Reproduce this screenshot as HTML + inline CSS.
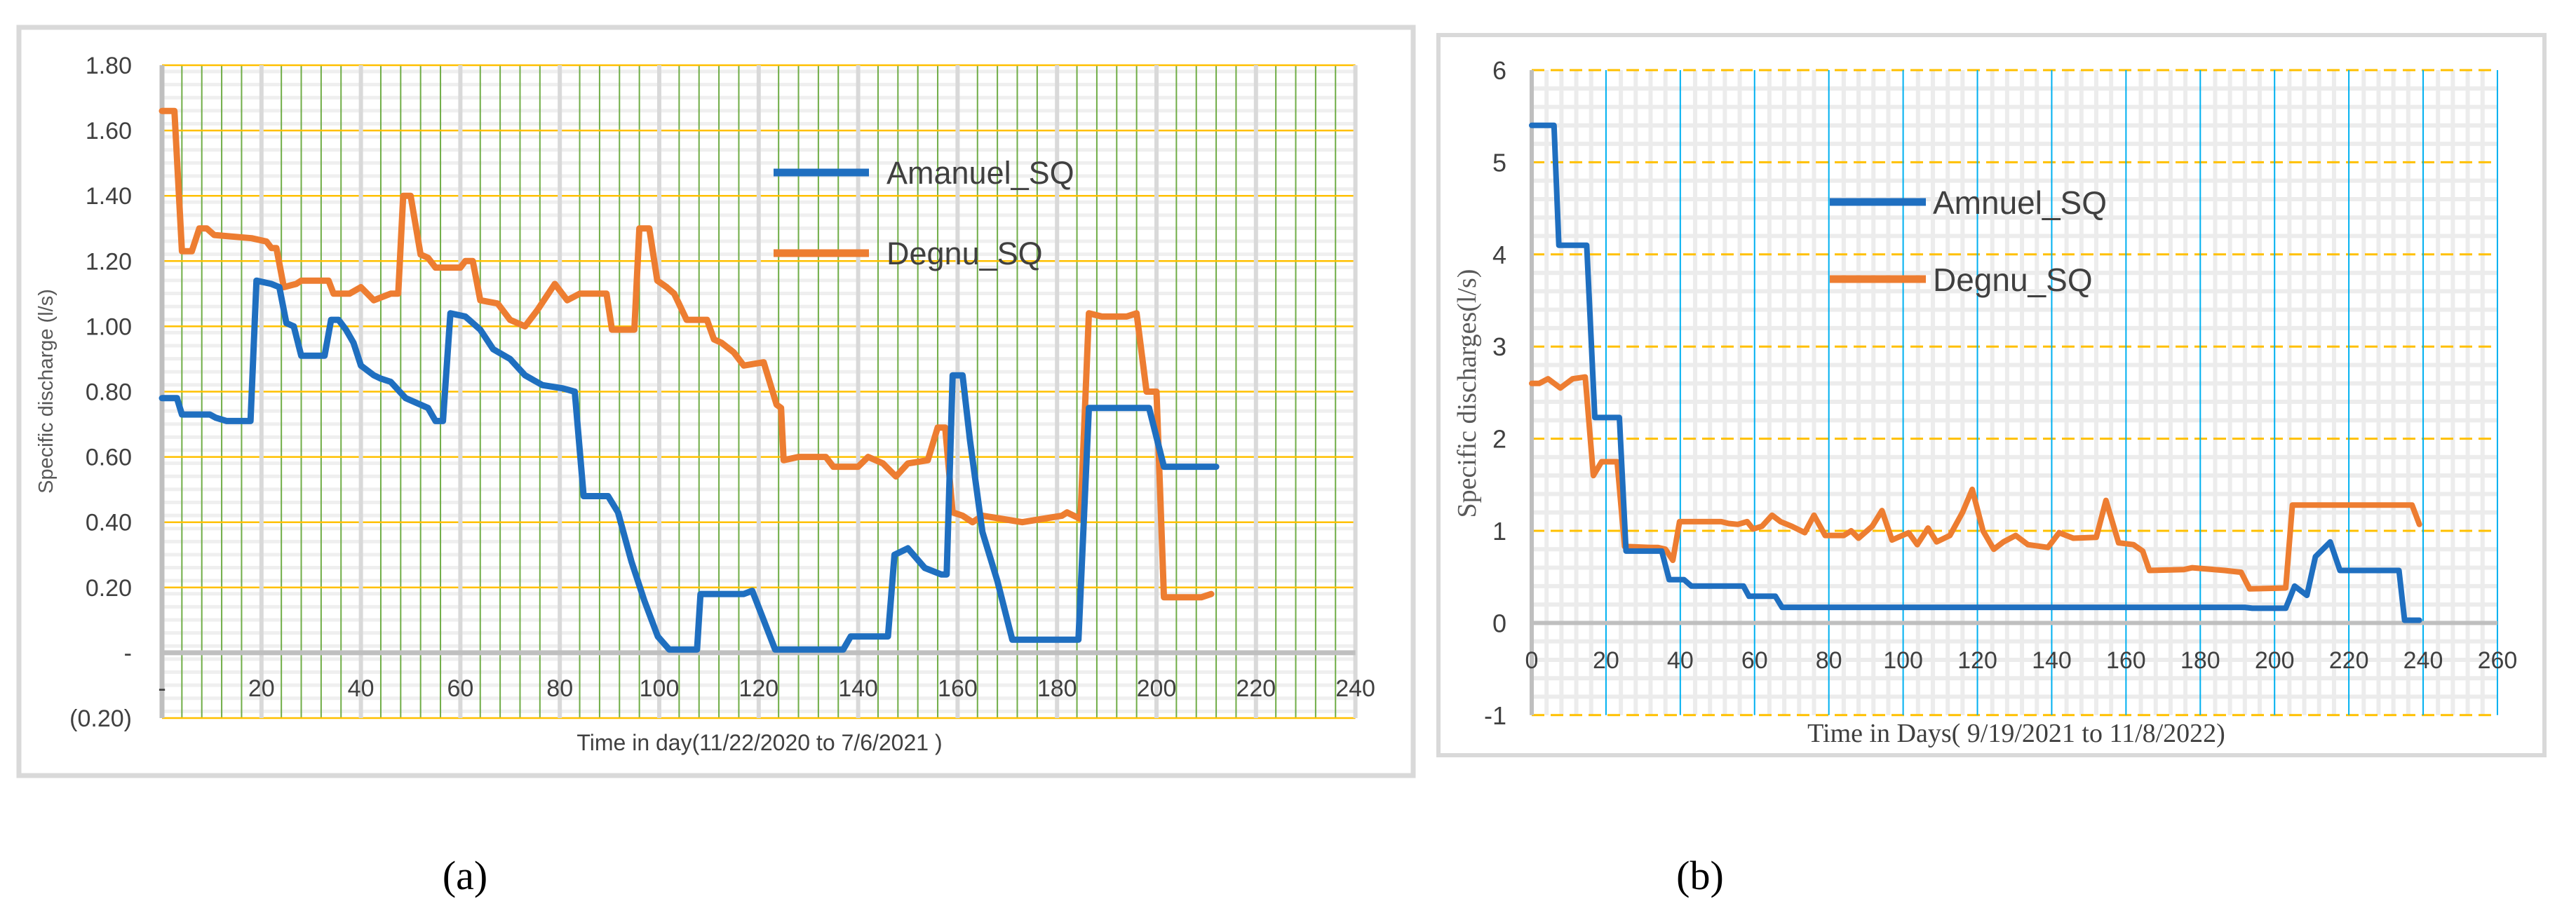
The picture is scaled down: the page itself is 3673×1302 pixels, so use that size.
<!DOCTYPE html>
<html><head><meta charset="utf-8"><style>
html,body{margin:0;padding:0;background:#fff;}
svg{display:block;}
text{font-family:"Liberation Sans",sans-serif;}
</style></head><body>
<svg id="fig" width="3673" height="1302" viewBox="0 0 3673 1302" xmlns="http://www.w3.org/2000/svg">
<rect x="0" y="0" width="3673" height="1302" fill="#fff"/>
<rect x="27" y="39" width="1988" height="1067" fill="#fff" stroke="#d9d9d9" stroke-width="7"/>
<rect x="2051" y="50" width="1577" height="1027" fill="#fff" stroke="#d9d9d9" stroke-width="6"/>
<g id="chartA"></g>
<g id="chartB"></g>
<text x="663" y="1268" font-size="58" text-anchor="middle" style="font-family:'Liberation Serif',serif">(a)</text>
<text x="2424" y="1268" font-size="58" text-anchor="middle" style="font-family:'Liberation Serif',serif">(b)</text>
</svg>
<script>
// ---------- Chart A data ----------
const aXTicks = [20,40,60,80,100,120,140,160,180,200,220,240];
const aYTicks = [1.8,1.6,1.4,1.2,1.0,0.8,0.6,0.4,0.2,0,-0.2];
const aYLabels = ["1.80","1.60","1.40","1.20","1.00","0.80","0.60","0.40","0.20","-","(0.20)"];
const aAmanDays = [0,3,4,9.6,10.8,13,17.8,19,22,23.6,25,26.5,28,32.7,34,35.5,37,38.5,40,42.6,44,46,49,52,53.5,55,56.5,58,61,64,66.6,70,73,76.5,80.6,83,84.8,89.7,91.7,94.4,97,99.7,102,107.6,108.3,117,118.7,121,123.3,137,138.5,146,147.3,150,153.4,156.7,157.8,159,161,162.5,165,168,171,184.3,186.4,198.5,201.5,212];
const aAmanVals = [0.78,0.78,0.73,0.73,0.72,0.71,0.71,1.14,1.13,1.12,1.01,1.00,0.91,0.91,1.02,1.02,0.99,0.95,0.88,0.85,0.84,0.83,0.78,0.76,0.75,0.71,0.71,1.04,1.03,0.99,0.93,0.90,0.85,0.82,0.81,0.80,0.48,0.48,0.43,0.28,0.16,0.05,0.01,0.01,0.18,0.18,0.19,0.10,0.01,0.01,0.05,0.05,0.30,0.32,0.26,0.24,0.24,0.85,0.85,0.65,0.37,0.22,0.04,0.04,0.75,0.75,0.57,0.57];
const aDegDays = [0,2.5,4,6,7.5,9,10.5,18,21,22,23,24.5,27,28,33.5,34.5,37.7,40,42.6,46,47.5,48.5,50,52,53.5,55,60,61,62.5,64,67.5,70,73,75.5,79,81.5,84,89.4,90.5,95,96,98,99.6,101.5,103,105.5,109.6,111,112.5,115,117,121,123.6,124.5,125,128,133.5,135,140,142,145,147.6,150,154,156,157.5,159,161,163,165,169,173,177,181,182,184.7,186.4,189,194,196,198,200,201.5,209,211];
const aDegVals = [1.66,1.66,1.23,1.23,1.30,1.30,1.28,1.27,1.26,1.24,1.24,1.12,1.13,1.14,1.14,1.10,1.10,1.12,1.08,1.10,1.10,1.40,1.40,1.22,1.21,1.18,1.18,1.20,1.20,1.08,1.07,1.02,1.00,1.05,1.13,1.08,1.10,1.10,0.99,0.99,1.30,1.30,1.14,1.12,1.10,1.02,1.02,0.96,0.95,0.92,0.88,0.89,0.76,0.75,0.59,0.60,0.60,0.57,0.57,0.60,0.58,0.54,0.58,0.59,0.69,0.69,0.43,0.42,0.40,0.42,0.41,0.40,0.41,0.42,0.43,0.41,1.04,1.03,1.03,1.04,0.80,0.80,0.17,0.17,0.18];

// ---------- Chart B data ----------
const bXTicks = [0,20,40,60,80,100,120,140,160,180,200,220,240,260];
const bYTicks = [6,5,4,3,2,1,0,-1];
const bAmnDays = [0,6,7.3,14.8,17,23.6,25.4,35,37,41,43,57,58.5,65.6,67.4,192,194,203,205.4,208.7,211,215,217.6,233.5,235,239];
const bAmnVals = [5.40,5.40,4.10,4.10,2.23,2.23,0.78,0.78,0.47,0.47,0.40,0.40,0.29,0.29,0.17,0.17,0.16,0.16,0.40,0.30,0.72,0.88,0.57,0.57,0.03,0.03];
const bDegDays = [0,2,4.4,7.7,11,14.4,16.6,18.8,23,25,32,34,36,38,39.8,51,53,55.5,58,59.6,62,64.7,67,70,73.5,76,79,84,86,88,91.7,94.3,97,101.5,103.8,106.7,109,112.6,116,118.6,121.5,124.4,127,130.3,133.6,139,142,145.8,152,154.6,158,162,164.5,166.3,175.6,177.8,186.6,191,193.3,203,204.8,237,239];
const bDegVals = [2.60,2.60,2.65,2.55,2.65,2.67,1.60,1.75,1.75,0.83,0.82,0.82,0.80,0.68,1.10,1.10,1.08,1.07,1.10,1.02,1.05,1.17,1.10,1.05,0.98,1.17,0.95,0.95,1.00,0.92,1.05,1.22,0.90,0.98,0.85,1.03,0.88,0.95,1.20,1.45,1.00,0.80,0.88,0.95,0.85,0.82,0.98,0.92,0.93,1.33,0.87,0.85,0.78,0.57,0.58,0.60,0.57,0.55,0.37,0.38,1.28,1.28,1.07];

const NS = "http://www.w3.org/2000/svg";
function mk(parent, tag, attrs, txt){
  const e = document.createElementNS(NS, tag);
  for (const k in attrs) e.setAttribute(k, attrs[k]);
  if (txt !== undefined) e.textContent = txt;
  parent.appendChild(e);
  return e;
}

// ===== Chart A =====
(function(){
  const g = document.getElementById('chartA');
  const X0 = 231, PX = 7.09, XMAX = 240;
  const Y0 = 93, YTOP = 1.8, PY = 93.1/0.2;
  const xs = d => X0 + d*PX;
  const ys = v => Y0 + (YTOP - v)*PY;
  const yb = ys(-0.2);
  // minor horizontal stripes
  for (let v = 1.8; v > -0.2; v -= 0.04) {
    const l = mk(g,'line',{x1:xs(0),x2:xs(XMAX),y1:ys(v)+9,y2:ys(v)+9,stroke:'#efefef','stroke-width':5});
    
    
  }
  // green minor verticals
  for (let d = 4; d <= XMAX; d += 4) {
    if (d % 20 === 0) continue;
    const l = mk(g,'line',{x1:xs(d),x2:xs(d),y1:Y0,y2:yb,stroke:'#70ad47','stroke-width':2});
    
    
  }
  // yellow major horizontals
  aYTicks.forEach(v => {
    if (v === 0) return;
    const l = mk(g,'line',{x1:xs(0),x2:xs(XMAX),y1:ys(v),y2:ys(v),stroke:'#ffc000','stroke-width':2.5});
    
    
  });
  // gray major verticals
  aXTicks.forEach(d => {
    const l = mk(g,'line',{x1:xs(d),x2:xs(d),y1:Y0,y2:yb,stroke:'#d9d9d9','stroke-width':6});
    
    
  });
  // axes
  let ax = mk(g,'line',{x1:xs(0),x2:xs(0),y1:Y0,y2:yb,stroke:'#bfbfbf','stroke-width':7});
  
  
  ax = mk(g,'line',{x1:xs(0),x2:xs(XMAX),y1:ys(0),y2:ys(0),stroke:'#bfbfbf','stroke-width':7});
  
  
  // y tick labels
  aYTicks.forEach((v,i) => {
    const t = mk(g,'text',{x:188,y:ys(v)+12,'font-size':34,'text-anchor':'end',fill:'#404040'}, aYLabels[i]);
    
    
  });
  // x tick labels
  let t0 = mk(g,'text',{x:xs(0),y:993,'font-size':34,'text-anchor':'middle',fill:'#404040'},'-');
  
  
  aXTicks.forEach(d => {
    const t = mk(g,'text',{x:xs(d),y:993,'font-size':34,'text-anchor':'middle',fill:'#404040'}, String(d));
    
    
  });
  // series
  function series(days, vals, color, name){
    const pts = days.map((d,i) => xs(d).toFixed(1)+','+ys(vals[i]).toFixed(1)).join(' ');
    const p = mk(g,'polyline',{points:pts,fill:'none',stroke:color,'stroke-width':9,'stroke-linejoin':'round','stroke-linecap':'round'});
    
    
  }
  series(aDegDays, aDegVals, '#ed7d31', 'degnu-sq-line');
  series(aAmanDays, aAmanVals, '#1f6fc0', 'amanuel-sq-line');
  // legend
  let l = mk(g,'line',{x1:1103,x2:1239,y1:246,y2:246,stroke:'#1f6fc0','stroke-width':11});
  
  
  let t = mk(g,'text',{x:1264,y:262,'font-size':45,fill:'#404040'},'Amanuel_SQ');
  
  
  l = mk(g,'line',{x1:1103,x2:1239,y1:361,y2:361,stroke:'#ed7d31','stroke-width':11});
  
  
  t = mk(g,'text',{x:1264,y:377,'font-size':45,fill:'#404040'},'Degnu_SQ');
  
  
  // axis titles
  t = mk(g,'text',{x:0,y:0,'font-size':29,'text-anchor':'middle',fill:'#595959',transform:'translate(75,558) rotate(-90)'},'Specific discharge (l/s)');
  
  
  t = mk(g,'text',{x:1083,y:1070,'font-size':32,'text-anchor':'middle',fill:'#404040'},'Time in day(11/22/2020  to 7/6/2021 )');
  
  
})();

// ===== Chart B =====
(function(){
  const g = document.getElementById('chartB');
  const X0 = 2184, PX = 5.296, XMAX = 260;
  const Y0 = 100, YTOP = 6, PY = 131.4;
  const xs = d => X0 + d*PX;
  const ys = v => Y0 + (YTOP - v)*PY;
  const yb = ys(-1);
  // minor grid
  for (let d = 4; d < XMAX; d += 4) {
    if (d % 20 === 0) continue;
    const l = mk(g,'line',{x1:xs(d),x2:xs(d),y1:Y0,y2:yb,stroke:'#ececec','stroke-width':6});
    
    
  }
  for (let v = -0.8; v < 6; v += 0.2) {
    if (Math.abs(v - Math.round(v)) < 0.01) continue;
    const l = mk(g,'line',{x1:xs(0),x2:xs(XMAX),y1:ys(v),y2:ys(v),stroke:'#ececec','stroke-width':6});
    
    
  }
  // dashed yellow majors
  bYTicks.forEach(v => {
    if (v === 0) return;
    const l = mk(g,'line',{x1:xs(0),x2:xs(XMAX),y1:ys(v),y2:ys(v),stroke:'#ffc000','stroke-width':3,'stroke-dasharray':'18,9'});
    
    
  });
  // blue majors
  bXTicks.forEach(d => {
    if (d === 0) return;
    const l = mk(g,'line',{x1:xs(d),x2:xs(d),y1:Y0,y2:yb,stroke:'#00b0f0','stroke-width':2});
    
    
  });
  let ax = mk(g,'line',{x1:xs(0),x2:xs(0),y1:Y0,y2:yb,stroke:'#bfbfbf','stroke-width':6});
  
  
  ax = mk(g,'line',{x1:xs(0),x2:xs(XMAX),y1:ys(0),y2:ys(0),stroke:'#bfbfbf','stroke-width':6});
  
  
  bYTicks.forEach(v => {
    const t = mk(g,'text',{x:2148,y:ys(v)+13,'font-size':36,'text-anchor':'end',fill:'#404040'}, String(v));
    
    
  });
  bXTicks.forEach(d => {
    const t = mk(g,'text',{x:xs(d),y:953,'font-size':34,'text-anchor':'middle',fill:'#404040'}, String(d));
    
    
  });
  function series(days, vals, color, name){
    const pts = days.map((d,i) => xs(d).toFixed(1)+','+ys(vals[i]).toFixed(1)).join(' ');
    const p = mk(g,'polyline',{points:pts,fill:'none',stroke:color,'stroke-width':8,'stroke-linejoin':'round','stroke-linecap':'round'});
    
    
  }
  series(bDegDays, bDegVals, '#ed7d31', 'degnu-sq-line');
  series(bAmnDays, bAmnVals, '#1f6fc0', 'amnuel-sq-line');
  let l = mk(g,'line',{x1:2609,x2:2746,y1:288,y2:288,stroke:'#1f6fc0','stroke-width':11});
  
  
  let t = mk(g,'text',{x:2756,y:305,'font-size':46,fill:'#404040'},'Amnuel_SQ');
  
  
  l = mk(g,'line',{x1:2609,x2:2746,y1:398,y2:398,stroke:'#ed7d31','stroke-width':11});
  
  
  t = mk(g,'text',{x:2756,y:415,'font-size':46,fill:'#404040'},'Degnu_SQ');
  
  
  t = mk(g,'text',{x:0,y:0,'font-size':38,'text-anchor':'middle',fill:'#595959',style:"font-family:'Liberation Serif',serif",transform:'translate(2104,561) rotate(-90)'},'Specific discharges(l/s)');
  
  
  t = mk(g,'text',{x:2875,y:1058,'font-size':38,'text-anchor':'middle',fill:'#404040',style:"font-family:'Liberation Serif',serif"},'Time in Days(  9/19/2021  to 11/8/2022)');
  
  
})();
</script>
</body></html>
